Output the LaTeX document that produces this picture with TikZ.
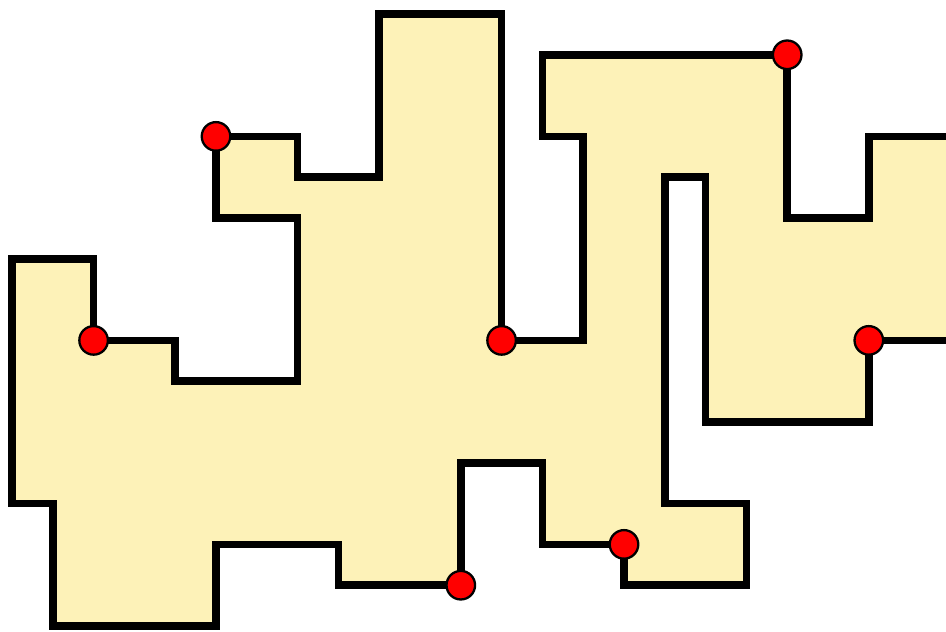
\documentclass[tikz,border=0pt]{standalone}
\definecolor{cellfill}{RGB}{253,242,184}
\begin{document}
\begin{tikzpicture}[x=0.5cm, y=-0.5cm,
          wall/.style={draw=black, line width=2.6pt, line join=miter, fill=cellfill},
          corner/.style={circle, draw=black, line width=0.8pt, fill=red, minimum size=0.35cm, inner sep=0pt}]
        \useasboundingbox (-0.294,-0.343) rectangle (22.892,15.123);
        \clip (-0.294,-0.343) rectangle (22.892,15.123);
        \draw[wall] (0,6) -- (2,6) -- (2,8) -- (4,8) -- (4,9) -- (7,9) -- (7,5) -- (5,5) -- (5,3)
          -- (7,3) -- (7,4) -- (9,4) -- (9,0) -- (12,0) -- (12,8) -- (14,8) -- (14,3) -- (13,3)
          -- (13,1) -- (19,1) -- (19,5) -- (21,5) -- (21,3) -- (23.5,3) -- (23.5,8) -- (21,8)
          -- (21,10) -- (17,10) -- (17,4) -- (16,4) -- (16,12) -- (18,12) -- (18,14) -- (15,14)
          -- (15,13) -- (13,13) -- (13,11) -- (11,11) -- (11,14) -- (8,14) -- (8,13) -- (5,13)
          -- (5,15) -- (1,15) -- (1,12) -- (0,12) -- cycle;
        \foreach \name/\pos in {a/{(2,8)}, b/{(5,3)}, c/{(12,8)}, d/{(19,1)}, e/{(21,8)}, f/{(15,13)}, g/{(11,14)}}
          \node[corner] (\name) at \pos {};
      \end{tikzpicture}
\end{document}
